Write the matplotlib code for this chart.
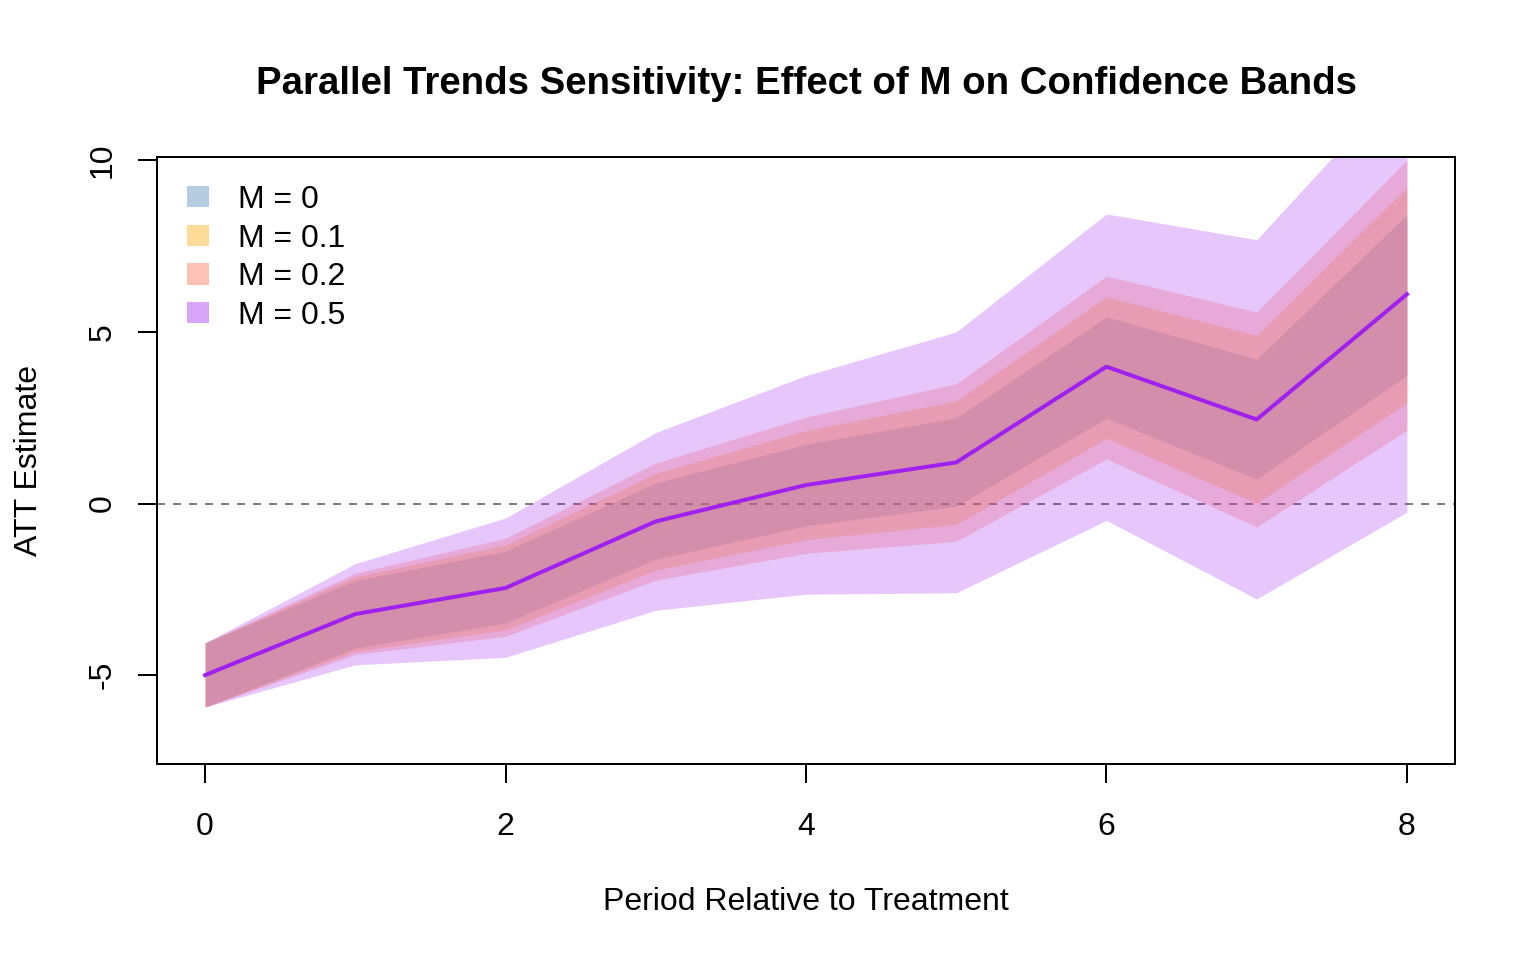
import numpy as np
import matplotlib.pyplot as plt
from matplotlib.patches import Patch

plt.rcParams['font.family'] = ['Liberation Sans', 'DejaVu Sans']

# periodos relativos al tratamiento
periodos = np.arange(9)

# estimacion puntual del ATT
att = [-5.0, -3.22, -2.46, -0.52, 0.54, 1.2, 3.99, 2.45, 6.1]

# bandas de confianza para cada M
inf_m0 = [-5.93, -4.21, -3.48, -1.62, -0.65, -0.08, 2.49, 0.71, 3.74]
sup_m0 = [-4.06, -2.24, -1.39, 0.60, 1.73, 2.50, 5.44, 4.21, 8.42]
inf_m01 = [-5.93, -4.31, -3.68, -1.94, -1.05, -0.61, 1.90, 0.01, 2.94]
sup_m01 = [-4.06, -2.13, -1.21, 0.88, 2.13, 2.99, 6.03, 4.90, 9.22]
inf_m02 = [-5.93, -4.40, -3.87, -2.23, -1.45, -1.10, 1.30, -0.68, 2.14]
sup_m02 = [-4.06, -2.03, -1.01, 1.18, 2.52, 3.49, 6.63, 5.58, 10.01]
inf_m05 = [-5.93, -4.70, -4.48, -3.11, -2.64, -2.60, -0.49, -2.78, -0.25]
sup_m05 = [-4.06, -1.75, -0.42, 2.07, 3.73, 5.00, 8.44, 7.69, 12.45]

etiquetas = ['M = 0', 'M = 0.1', 'M = 0.2', 'M = 0.5']
colores = ['steelblue', 'orange', 'tomato', '#A020F0']
inferiores = [inf_m0, inf_m01, inf_m02, inf_m05]
superiores = [sup_m0, sup_m01, sup_m02, sup_m05]

fig = plt.figure(figsize=(8, 5), dpi=192)
ax = fig.add_axes([157 / 1536, 1 - 764 / 960, 1298 / 1536, 607 / 960])

# linea de referencia en cero
ax.axhline(0, color='#7F7F7F', lw=0.75, ls=(0, (4, 4)), zorder=1)

# bandas (de la mas estrecha a la mas ancha)
for inf, sup, col in zip(inferiores, superiores, colores):
    ax.fill_between(periodos, inf, sup, color=col, alpha=0.25, lw=0, zorder=2)

ax.plot(periodos, att, color='#A020F0', lw=1.5, zorder=3)

ax.set_xlim(-0.32, 8.32)
ax.set_ylim(-7.59, 10.10)
ax.set_xticks([0, 2, 4, 6, 8])
ax.set_yticks([-5, 0, 5, 10])
ax.set_yticklabels(['-5', '0', '5', '10'], rotation=90, va='center')
ax.tick_params(length=7.2, width=0.75, labelsize=12, color='black')
ax.tick_params(axis='x', pad=10.8)
ax.tick_params(axis='y', pad=7.5)
for s in ax.spines.values():
    s.set_linewidth(0.75)

ax.set_xlabel('Period Relative to Treatment', fontsize=12, va='top')
ax.xaxis.set_label_coords(0.5, (764 - 887) / 607)
ax.set_ylabel('ATT Estimate', fontsize=12)
ax.yaxis.set_label_coords((44 - 157) / 1298, 0.5)

ax.text(0.5, (764 - 94) / 607, 'Parallel Trends Sensitivity: Effect of M on Confidence Bands',
        transform=ax.transAxes, ha='center', va='baseline', fontsize=14.4, fontweight='bold')

# leyenda con los colores vistos sobre blanco
parches = [Patch(facecolor=c, alpha=0.4, edgecolor='none') for c in colores]
ax.legend(parches, etiquetas, loc='upper left', bbox_to_anchor=(30 / 1298, (764 - 185) / 607),
          frameon=False, fontsize=12, borderpad=0, borderaxespad=0,
          handlelength=0.7, handleheight=0.65, handletextpad=0.9, labelspacing=0.27)

fig.savefig('out.png', dpi=192)
